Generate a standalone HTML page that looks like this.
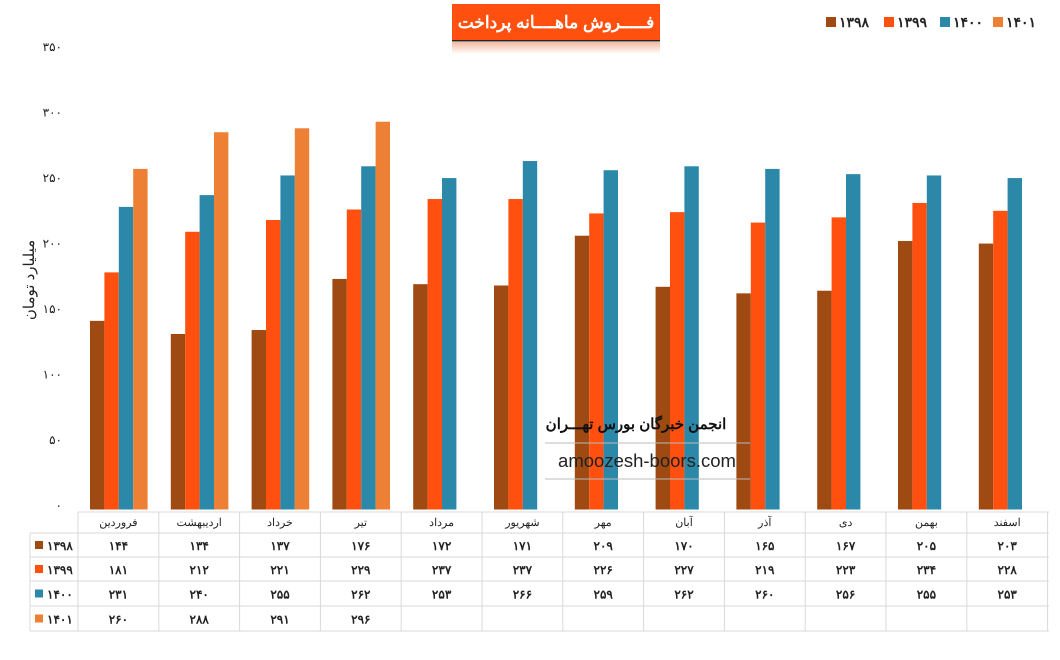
<!DOCTYPE html>
<html><head><meta charset="utf-8">
<style>
body{margin:0;background:#fff;font-family:"Liberation Sans","Noto Sans CJK SC",sans-serif;}
svg text{font-family:"Liberation Sans","Noto Sans CJK SC",sans-serif;}
</style></head>
<body>
<svg id="chart" width="1060" height="655" viewBox="0 0 1060 655" xmlns="http://www.w3.org/2000/svg">
<defs>
<linearGradient id="sh" x1="0" y1="0" x2="0" y2="1"><stop offset="0" stop-color="#f3b9a0"/><stop offset="1" stop-color="#fff"/></linearGradient>
</defs>
<g>
<rect x="452" y="4" width="208" height="36" fill="#FF5010"/>
<rect x="452" y="40" width="208" height="1.5" fill="#222"/>
<rect x="452" y="42" width="208" height="12" fill="url(#sh)"/>
<text x="556" y="28" text-anchor="middle" font-size="17" font-weight="bold" fill="#fff">فـــــروش ماهــــانه پرداخت</text>
</g>
<g id="legend"></g>
<text transform="translate(34,280) rotate(-90)" text-anchor="middle" font-size="15" fill="#222">میلیارد تومان</text>
<g id="yticks"></g>
<g id="bars"></g>
<g>
<text x="636" y="429" text-anchor="middle" font-size="15" font-weight="bold" fill="#111">انجمن خبرگان بورس تهـــران</text>
<line x1="545" y1="443" x2="750" y2="443" stroke="#bbb"/>
<text x="647" y="467" text-anchor="middle" font-size="18.5" fill="#222">amoozesh-boors.com</text>
<line x1="545" y1="479" x2="750" y2="479" stroke="#bbb"/>
</g>
<g id="table"></g>
</svg>
<script>
const months=["فروردین","اردیبهشت","خرداد","تیر","مرداد","شهریور","مهر","آبان","آذر","دی","بهمن","اسفند"];
const seriesNames=["1398","1399","1400","1401"];
const s1398=[144,134,137,176,172,171,209,170,165,167,205,203];
const s1399=[181,212,221,229,237,237,226,227,219,223,234,228];
const s1400=[231,240,255,262,253,266,259,262,260,256,255,253];
const s1401=[260,288,291,296];
const yTicks=[0,50,100,150,200,250,300,350];
const series=[s1398,s1399,s1400,s1401];
const colors=["#9E4A12","#FF5010","#2B88A8","#EE8035"];
const NS="http://www.w3.org/2000/svg";
function fa(n){return String(n).replace(/\d/g,d=>"۰۱۲۳۴۵۶۷۸۹"[d]);}
function el(tag,attrs,parent,txt){const e=document.createElementNS(NS,tag);for(const k in attrs)e.setAttribute(k,attrs[k]);if(txt!==undefined)e.textContent=txt;parent.appendChild(e);return e;}
const y0=509.5,yTop=51,yMax=350;
function yS(v){return y0-(v/yMax)*(y0-yTop);}
const x0=78,colW=80.8;
function xS(i){return x0+i*colW;}
const barW=14.4,barOff=12;
const yt=document.getElementById('yticks');
yTicks.forEach(t=>{const e=el('text',{x:62,y:yS(t),'text-anchor':'end','font-size':12,fill:'#222'},yt,fa(t));

});
const bg=document.getElementById('bars');
series.forEach((s,si)=>{s.forEach((v,i)=>{const r=el('rect',{x:xS(i)+barOff+si*barW,y:yS(v),width:barW,height:y0-yS(v),fill:colors[si]},bg);

});});
const lg=document.getElementById('legend');
const lx=[826,884,940,993];
seriesNames.forEach((n,si)=>{const g=el('g',{},lg);


el('rect',{x:lx[si],y:17,width:10,height:10,fill:colors[si]},g);
el('text',{x:lx[si]+13,y:27,'font-size':14,'font-weight':'bold',fill:'#222'},g,fa(n));});
const tb=document.getElementById('table');
const rowY=[512,533,557,581,606,631];
const lineC="#d9d9d9";
rowY.forEach((y,ri)=>{el('line',{x1:ri==0?x0:30,y1:y,x2:1049,y2:y,stroke:lineC},tb);});
for(let i=0;i<=12;i++){el('line',{x1:xS(i),y1:512,x2:xS(i),y2:631,stroke:lineC},tb);}
el('line',{x1:30,y1:533,x2:30,y2:631,stroke:lineC},tb);
months.forEach((m,i)=>{const t=el('text',{x:xS(i)+colW/2,y:526,'text-anchor':'middle','font-size':11,fill:'#222'},tb,m);

});
series.forEach((s,si)=>{const cy=(rowY[si+1]+rowY[si+2])/2;
el('rect',{x:35,y:cy-4,width:8,height:8,fill:colors[si]},tb);
el('text',{x:47,y:cy+5,'font-size':12,'font-weight':'bold',fill:'#222'},tb,fa(seriesNames[si]));
s.forEach((v,i)=>{const t=el('text',{x:xS(i)+colW/2,y:cy+5,'text-anchor':'middle','font-size':12,'font-weight':'bold',fill:'#222'},tb,fa(v));

});});
</script>
</body></html>
